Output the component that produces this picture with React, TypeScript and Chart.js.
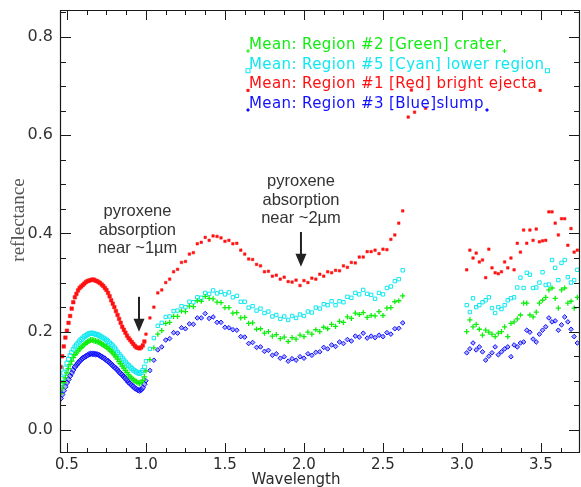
import React, { useEffect, useRef } from "react";
import { Chart, registerables } from "chart.js";
Chart.register(...registerables);

// ---------- data ----------
const wlVnir = [0.46,0.47,0.48,0.49,0.50,0.51,0.52,0.53,0.54,0.55,0.56,0.57,0.58,0.59,0.60,0.61,0.62,0.63,0.64,0.65,0.66,0.67,0.68,0.69,0.70,0.71,0.72,0.73,0.74,0.75,0.76,0.77,0.78,0.79,0.80,0.81,0.82,0.83,0.84,0.85,0.86,0.87,0.88,0.89,0.90,0.91,0.92,0.93,0.94,0.95,0.96,0.97,0.98,0.99];
const redVnir = [.128,.15,.17,.188,.202,.218,.232,.247,.26,.27,.277,.284,.289,.292,.295,.298,.301,.303,.304,.305,.306,.306,.304,.303,.301,.299,.296,.293,.289,.285,.279,.272,.264,.257,.25,.242,.234,.226,.218,.21,.204,.198,.192,.187,.183,.179,.175,.171,.168,.167,.166,.168,.172,.18];
const cyanVnir = [.094,.105,.116,.126,.136,.144,.151,.158,.164,.169,.173,.177,.181,.184,.187,.19,.192,.194,.196,.197,.197,.196,.195,.194,.193,.191,.189,.187,.185,.183,.18,.177,.174,.171,.167,.163,.158,.154,.15,.146,.142,.138,.134,.131,.128,.125,.122,.12,.118,.116,.115,.117,.121,.128];
const greenVnir = [.074,.085,.096,.106,.116,.125,.133,.14,.147,.153,.157,.161,.165,.168,.171,.174,.177,.179,.181,.183,.183,.182,.181,.18,.179,.177,.175,.173,.171,.169,.166,.163,.16,.157,.153,.149,.144,.139,.135,.13,.126,.121,.117,.112,.108,.105,.102,.1,.098,.096,.095,.097,.101,.108];
const blueVnir = [.064,.072,.08,.088,.096,.103,.11,.116,.122,.128,.132,.136,.14,.143,.146,.148,.15,.152,.154,.155,.155,.155,.154,.154,.153,.151,.149,.147,.145,.142,.14,.137,.134,.131,.128,.125,.122,.118,.115,.112,.108,.105,.101,.097,.094,.091,.088,.085,.083,.081,.08,.082,.086,.093];

const wlNir = [1.000,1.025,1.050,1.075,1.100,1.125,1.150,1.175,1.200,1.225,1.250,1.275,1.300,1.325,1.350,1.375,1.400,1.425,1.450,1.475,1.500,1.525,1.550,1.575,1.600,1.625,1.650,1.675,1.700,1.725,1.750,1.775,1.800,1.825,1.850,1.875,1.900,1.925,1.950,1.975,2.000,2.025,2.050,2.075,2.100,2.125,2.150,2.175,2.200,2.225,2.250,2.275,2.300,2.325,2.350,2.375,2.400,2.425,2.450,2.475,2.500,2.525,2.550,2.575,2.600,2.625];
const redNir = [.195,.228,.25,.279,.285,.3,.307,.322,.327,.341,.343,.358,.361,.379,.382,.392,.386,.395,.394,.391,.384,.386,.379,.38,.366,.358,.348,.347,.337,.334,.322,.323,.313,.315,.307,.311,.302,.301,.305,.294,.304,.3,.309,.307,.317,.313,.322,.32,.325,.324,.334,.331,.341,.34,.352,.352,.363,.363,.366,.359,.368,.367,.388,.397,.421,.446];
const cyanNir = [.14,.165,.187,.212,.218,.23,.231,.242,.243,.252,.25,.261,.26,.27,.269,.279,.277,.284,.278,.281,.276,.28,.27,.273,.261,.261,.249,.252,.243,.247,.238,.241,.231,.234,.226,.231,.224,.232,.228,.235,.232,.241,.239,.249,.247,.256,.254,.262,.254,.262,.26,.271,.269,.279,.276,.285,.277,.275,.267,.279,.276,.289,.292,.303,.307,.325];
const greenNir = [.12,.143,.167,.195,.202,.217,.219,.231,.231,.242,.241,.252,.251,.263,.262,.272,.268,.267,.26,.259,.249,.249,.238,.239,.228,.229,.217,.218,.205,.206,.197,.2,.191,.194,.186,.189,.18,.188,.185,.193,.19,.199,.195,.204,.2,.209,.206,.215,.211,.221,.219,.23,.227,.238,.235,.239,.229,.233,.232,.241,.233,.248,.249,.261,.263,.273];
const blueNir = [.1,.121,.142,.163,.169,.183,.186,.198,.197,.208,.206,.216,.215,.228,.228,.237,.227,.23,.219,.219,.209,.208,.204,.203,.19,.189,.176,.178,.168,.169,.16,.162,.152,.155,.146,.149,.14,.145,.142,.149,.146,.155,.152,.158,.159,.168,.165,.173,.17,.179,.176,.184,.181,.191,.189,.197,.187,.191,.188,.193,.19,.198,.195,.206,.207,.218];

const wlGapRed = [2.66, 2.68, 2.70, 2.77];
const redGap = [0.637, 0.692, 0.647, 0.655];

const wlSwir = [3.03,3.05,3.07,3.09,3.11,3.13,3.15,3.17,3.19,3.21,3.23,3.25,3.27,3.29,3.31,3.33,3.35,3.37,3.39,3.41,3.43,3.45,3.47,3.49,3.51,3.53,3.55,3.57,3.59,3.61,3.63,3.65,3.67,3.69,3.71,3.73];
const redSwir = [.326,.366,.35,.36,.342,.346,.31,.368,.33,.32,.318,.322,.342,.33,.35,.326,.38,.362,.407,.38,.407,.386,.409,.383,.385,.386,.444,.444,.421,.397,.43,.43,.376,.41,.362,.366];
const cyanSwir = [.254,.24,.268,.25,.254,.26,.264,.27,.248,.238,.25,.246,.254,.264,.268,.27,.29,.31,.289,.32,.316,.289,.29,.3,.321,.295,.296,.346,.33,.305,.34,.346,.311,.3,.305,.326];
const greenSwir = [.2,.224,.21,.215,.205,.193,.203,.199,.195,.19,.197,.2,.21,.19,.217,.22,.226,.234,.258,.258,.234,.23,.24,.258,.264,.27,.285,.289,.268,.248,.285,.289,.258,.262,.248,.27];
const blueSwir = [.157,.165,.177,.163,.169,.159,.142,.15,.157,.169,.153,.159,.165,.169,.149,.173,.169,.177,.179,.203,.199,.185,.179,.195,.203,.21,.228,.22,.222,.203,.214,.23,.22,.205,.19,.177];

const xMajorTicks = [0.5, 1.0, 1.5, 2.0, 2.5, 3.0, 3.5];
const xMinorTicks = [0.625,0.75,0.875,1.125,1.25,1.375,1.625,1.75,1.875,2.125,2.25,2.375,2.625,2.75,2.875,3.125,3.25,3.375,3.625];
const yMajorTicks = [0.0, 0.2, 0.4, 0.6, 0.8];
const yMinorTicks = [0.05,0.1,0.15,0.25,0.3,0.35,0.45,0.5,0.55,0.65,0.7,0.75,0.85];

const legendLabels = [
  "Mean: Region #2 [Green] crater",
  "Mean: Region #5 [Cyan] lower region",
  "Mean: Region #1 [Red] bright ejecta",
  "Mean: Region #3 [Blue]slump",
];
const annotationLines1 = ["pyroxene", "absorption", "near ~1\u00b5m"];
const annotationLines2 = ["pyroxene", "absorption", "near ~2\u00b5m"];

// ---------- styling ----------
const RED = "#ff1010";
const GREEN = "#10ee10";
const CYAN = "#10e8f0";
const BLUE = "#1010ff";

function pairs(...segs: [number[], number[]][]) {
  const out: { x: number; y: number }[] = [];
  segs.forEach(([xs, ys]) => xs.forEach((x, i) => out.push({ x, y: ys[i] })));
  return out;
}

const vnirBigger = (small: number, big: number) => (c: any) =>
  c.raw && c.raw.x < 1.0 ? big : small;

function drawMarker(ctx: CanvasRenderingContext2D, kind: string, x: number, y: number, color: string) {
  ctx.save();
  ctx.strokeStyle = color;
  ctx.fillStyle = color;
  ctx.lineWidth = 1;
  if (kind === "rect") {
    ctx.fillRect(x - 1.5, y - 1.5, 3, 3);
  } else if (kind === "open") {
    ctx.strokeRect(x - 2, y - 2, 4, 4);
  } else if (kind === "cross") {
    ctx.beginPath();
    ctx.moveTo(x - 2, y); ctx.lineTo(x + 2, y);
    ctx.moveTo(x, y - 2); ctx.lineTo(x, y + 2);
    ctx.stroke();
  } else {
    ctx.beginPath();
    ctx.moveTo(x, y - 2); ctx.lineTo(x + 2, y); ctx.lineTo(x, y + 2); ctx.lineTo(x - 2, y);
    ctx.closePath();
    ctx.fill();
  }
  ctx.restore();
}

const idlFrame = {
  id: "idlFrame",
  afterDatasetsDraw(chart: any) {
    const { ctx, chartArea: a, scales } = chart;
    const xs = scales.x;
    const ys = scales.y;
    ctx.save();
    ctx.strokeStyle = "#1a1a1a";
    ctx.lineWidth = 1.2;
    ctx.beginPath();
    ctx.rect(a.left + 0.5, a.top + 0.5, a.right - a.left - 1, a.bottom - a.top - 1);
    ctx.stroke();

    ctx.lineWidth = 1;
    ctx.beginPath();
    const xt = (v: number, len: number) => {
      const p = Math.round(xs.getPixelForValue(v)) + 0.5;
      ctx.moveTo(p, a.bottom); ctx.lineTo(p, a.bottom - len);
      ctx.moveTo(p, a.top); ctx.lineTo(p, a.top + len);
    };
    const yt = (v: number, len: number) => {
      const p = Math.round(ys.getPixelForValue(v)) + 0.5;
      ctx.moveTo(a.left, p); ctx.lineTo(a.left + len, p);
      ctx.moveTo(a.right, p); ctx.lineTo(a.right - len, p);
    };
    xMajorTicks.forEach((v) => xt(v, 10));
    xMinorTicks.forEach((v) => xt(v, 5));
    yMajorTicks.forEach((v) => yt(v, 11));
    yMinorTicks.forEach((v) => yt(v, 6));
    ctx.stroke();

    // tick labels
    ctx.fillStyle = "#2a2a2a";
    ctx.font = '15px "DejaVu Sans"';
    ctx.textAlign = "center";
    ctx.textBaseline = "alphabetic";
    xMajorTicks.forEach((v) => ctx.fillText(v.toFixed(1), xs.getPixelForValue(v), a.bottom + 16));
    ctx.fillStyle = "#333";
    ctx.font = '16px "DejaVu Sans"';
    ctx.textAlign = "right";
    ctx.textBaseline = "middle";
    yMajorTicks.forEach((v) => ctx.fillText(v.toFixed(1), a.left - 7, ys.getPixelForValue(v)));

    // axis titles
    ctx.fillStyle = "#2a2a2a";
    ctx.font = '15px "DejaVu Sans"';
    ctx.textAlign = "center";
    ctx.textBaseline = "alphabetic";
    ctx.fillText("Wavelength", 296, a.bottom + 31);
    ctx.save();
    ctx.translate(19, 220);
    ctx.rotate(-Math.PI / 2);
    ctx.fillStyle = "#555";
    ctx.font = '19px "Liberation Serif"';
    ctx.textBaseline = "middle";
    ctx.fillText("reflectance", 0, 0);
    ctx.restore();

    // legend text
    const colors = [GREEN, CYAN, RED, BLUE];
    const kinds = ["cross", "open", "rect", "diamond"];
    const baselines = [49, 68.7, 88.4, 108];
    ctx.font = '15px "DejaVu Sans"';
    (ctx as any).letterSpacing = "0.4px";
    ctx.textAlign = "left";
    legendLabels.forEach((t, i) => {
      ctx.fillStyle = colors[i];
      ctx.fillText(t, 249, baselines[i]);
      const w = ctx.measureText(t).width;
      drawMarker(ctx, kinds[i], 248, baselines[i] + 2, colors[i]);
      drawMarker(ctx, kinds[i], 249 + w + 3, baselines[i] + 2, colors[i]);
    });
    (ctx as any).letterSpacing = "0px";

    // annotations
    ctx.fillStyle = "#333";
    ctx.font = '16.5px "Liberation Sans"';
    ctx.textAlign = "center";
    const ann = (lines: string[], cx: number, base: number) =>
      lines.forEach((l, i) => ctx.fillText(l, cx, base + i * 18.6));
    ann(annotationLines1, 137.5, 216);
    ann(annotationLines2, 301, 186);

    const arrow = (wl: number, vTop: number, vTip: number) => {
      const x = xs.getPixelForValue(wl);
      const y0 = ys.getPixelForValue(vTop);
      const y1 = ys.getPixelForValue(vTip);
      ctx.strokeStyle = "#222";
      ctx.fillStyle = "#222";
      ctx.lineWidth = 2;
      ctx.beginPath();
      ctx.moveTo(x, y0); ctx.lineTo(x, y1 - 8);
      ctx.stroke();
      ctx.beginPath();
      ctx.moveTo(x - 5.5, y1 - 13); ctx.lineTo(x + 5.5, y1 - 13); ctx.lineTo(x, y1);
      ctx.closePath();
      ctx.fill();
    };
    arrow(0.956, 0.271, 0.2);
    arrow(1.981, 0.403, 0.332);
    ctx.restore();
  },
};

export default function App() {
  const ref = useRef<HTMLCanvasElement | null>(null);
  useEffect(() => {
    if (!ref.current) return;
    const chart = new Chart(ref.current, {
      type: "scatter",
      data: {
        datasets: [
          {
            label: "green",
            data: pairs([wlVnir, greenVnir], [wlNir, greenNir], [wlSwir, greenSwir]),
            pointStyle: "cross",
            pointRadius: vnirBigger(2.6, 3),
            borderColor: GREEN,
            backgroundColor: GREEN,
            borderWidth: 1.3,
          },
          {
            label: "cyan",
            data: pairs([wlVnir, cyanVnir], [wlNir, cyanNir], [wlSwir, cyanSwir]),
            pointStyle: "rect",
            pointRadius: vnirBigger(2.4, 2.8),
            borderColor: CYAN,
            backgroundColor: "rgba(255,255,255,0)",
            borderWidth: 1,
          },
          {
            label: "red",
            data: pairs([wlVnir, redVnir], [wlNir, redNir], [wlGapRed, redGap], [wlSwir, redSwir]),
            pointStyle: "rect",
            pointRadius: vnirBigger(1.8, 2.5),
            borderColor: RED,
            backgroundColor: RED,
            borderWidth: 0.5,
          },
          {
            label: "blue",
            data: pairs([wlVnir, blueVnir], [wlNir, blueNir], [wlSwir, blueSwir]),
            pointStyle: "rectRot",
            pointRadius: vnirBigger(2.3, 2.8),
            borderColor: BLUE,
            backgroundColor: "rgba(16,16,255,0.35)",
            borderWidth: 1,
          },
        ],
      },
      options: {
        animation: false,
        responsive: false,
        maintainAspectRatio: false,
        devicePixelRatio: 1,
        layout: { autoPadding: false, padding: { left: 60, right: 1, top: 10, bottom: 34 } },
        plugins: { legend: { display: false }, tooltip: { enabled: false } },
        scales: {
          x: { type: "linear", min: 0.456, max: 3.747, display: false },
          y: { type: "linear", min: -0.047, max: 0.855, display: false },
        },
      },
      plugins: [idlFrame],
    });
    return () => chart.destroy();
  }, []);
  return (
    <div style={{ position: "fixed", left: 0, top: 0, width: 581, height: 487, background: "#fff" }}>
      <canvas ref={ref} width={581} height={487} style={{ width: 581, height: 487, display: "block" }} />
    </div>
  );
}
